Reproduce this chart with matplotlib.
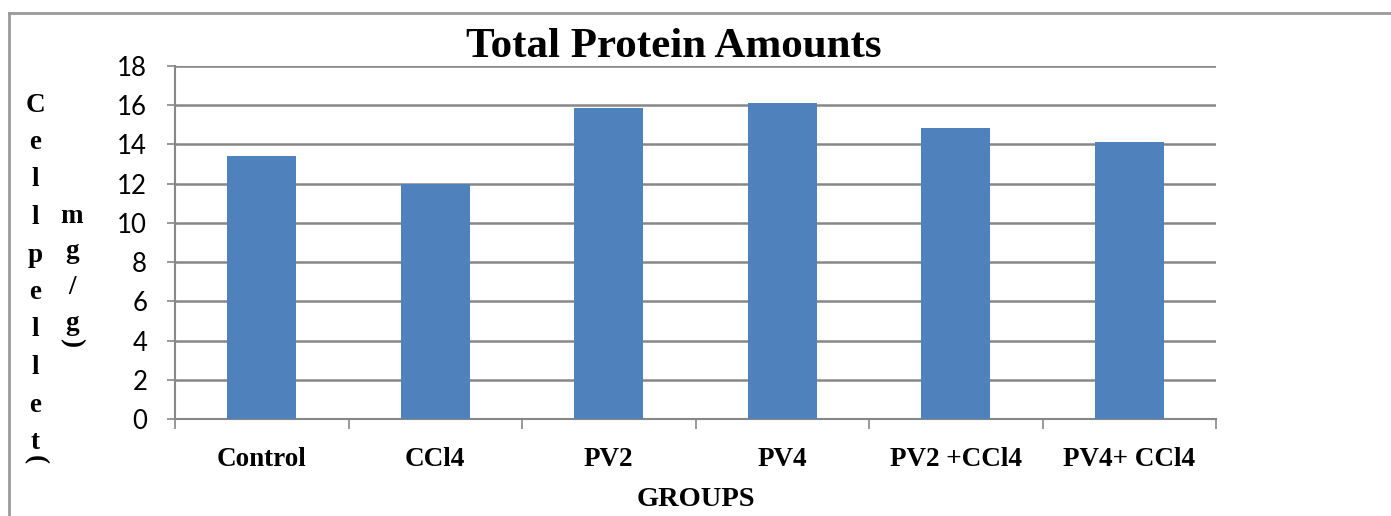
import matplotlib
matplotlib.use('Agg')
import matplotlib.pyplot as plt
from matplotlib.lines import Line2D

groups = ['Control', 'CCl4', 'PV2', 'PV4', 'PV2 +CCl4', 'PV4+ CCl4']
protein = [13.4, 12.0, 15.85, 16.1, 14.85, 14.1]
yticks = [0, 2, 4, 6, 8, 10, 12, 14, 16, 18]
ylab_col1 = ['C', 'e', 'l', 'l', 'p', 'e', 'l', 'l', 'e', 't']
ylab_col2 = ['m', 'g', '/', 'g']

W, H = 1391, 516
fig = plt.figure(figsize=(W / 100, H / 100), dpi=100)
ax = fig.add_axes([175 / W, 1 - 419 / H, (1216 - 175) / W, (419 - 66) / H])

grid_c = '#878787'
x = range(len(groups))
ax.bar(x, protein, width=0.4, color='#4F81BD', zorder=3)
ax.set_xlim(-0.5, len(groups) - 0.5)
ax.set_ylim(0, 18)
ax.set_yticks(yticks)
ax.set_yticklabels([str(v) for v in yticks], fontfamily='Lato', fontsize=18.5)
ax.yaxis.grid(True, color=grid_c, linewidth=1.8, zorder=0)
ax.tick_params(axis='y', length=6, width=1.2, color=grid_c, pad=14)

# category labels between boundary ticks
ax.set_xticks([i - 0.5 for i in range(len(groups) + 1)])
ax.set_xticklabels([])
ax.set_xticks(list(x), minor=True)
ax.set_xticklabels(groups, minor=True, fontfamily='Liberation Serif',
                   fontweight='bold', fontsize=19.5)
ax.tick_params(axis='x', which='major', length=7, width=1.2, color=grid_c)
ax.tick_params(axis='x', which='minor', length=0, pad=20)

for s in ['top', 'right']:
    ax.spines[s].set_visible(False)
for s in ['left', 'bottom']:
    ax.spines[s].set_color(grid_c)
    ax.spines[s].set_linewidth(1.5)

ax.set_xlabel('GROUPS', fontfamily='Liberation Serif', fontweight='bold',
              fontsize=20.5, labelpad=11)

fig.text(674 / W, 1 - 47 / H, 'Total Protein Amounts', ha='center', va='center',
         fontfamily='Liberation Serif', fontweight='bold', fontsize=31)

# stacked y-axis label
serif = dict(fontfamily='Liberation Serif', fontweight='bold', fontsize=19.5,
             ha='center', va='center')
for i, ch in enumerate(ylab_col1):
    fig.text(35 / W, 1 - (105 + i * 37.5) / H, ch, **serif)
fig.text(35 / W, 1 - 460 / H, '(', rotation=-90, **serif)
for i, ch in enumerate(ylab_col2):
    fig.text(72 / W, 1 - (216 + i * 36) / H, ch, **serif)
fig.text(72 / W, 1 - 343 / H, ')', rotation=-90, **serif)

# outer frame (left and top edges)
fig.add_artist(Line2D([9 / W, 9 / W], [0, 1 - 13 / H], transform=fig.transFigure,
                      color='#9a9a9a', linewidth=2))
fig.add_artist(Line2D([9 / W, 1], [1 - 13 / H, 1 - 13 / H], transform=fig.transFigure,
                      color='#9a9a9a', linewidth=2))

fig.savefig('out.png', dpi=100)
